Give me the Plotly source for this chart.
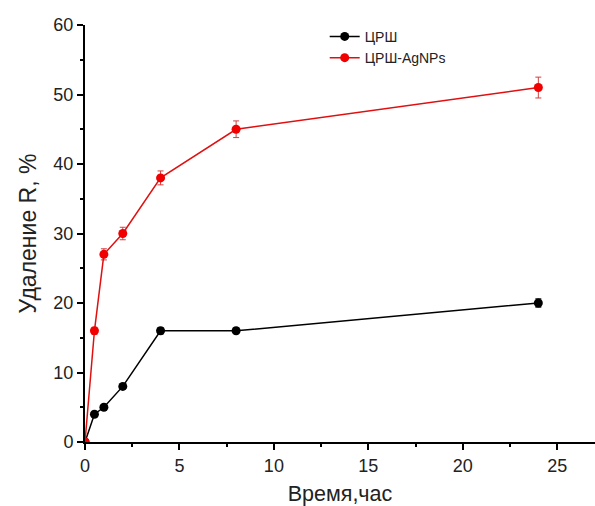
import plotly.graph_objects as go

time_h = [0, 0.5, 1, 2, 4, 8, 24]
crsh = [0, 4, 5, 8, 16, 16, 20]
crsh_err = [0, 0.2, 0.2, 0.3, 0.45, 0.4, 0.6]
crsh_ag = [0, 16, 27, 30, 38, 45, 51]
crsh_ag_err = [0, 0.5, 0.8, 0.9, 1.0, 1.2, 1.5]

fig = go.Figure()
fig.add_trace(go.Scatter(
    x=time_h, y=crsh, name="ЦРШ", mode="lines+markers",
    line=dict(color="black", width=1.5),
    marker=dict(color="black", size=9, symbol="circle"),
    error_y=dict(type="data", array=crsh_err, color="black", thickness=1, width=3),
))
fig.add_trace(go.Scatter(
    x=time_h, y=crsh_ag, name="ЦРШ-AgNPs", mode="lines+markers",
    line=dict(color="#e01010", width=1.5),
    marker=dict(color="#f00000", size=9, symbol="circle"),
    error_y=dict(type="data", array=crsh_ag_err, color="#d04040", thickness=1, width=3),
))

fig.update_layout(
    width=595, height=506,
    margin=dict(l=85, r=0, t=25, b=64),
    plot_bgcolor="white", paper_bgcolor="white",
    font=dict(family="Liberation Sans, Arial, sans-serif", color="#222", size=18),
    showlegend=True,
    legend=dict(x=0.47, y=1.01, xanchor="left", yanchor="top",
                font=dict(size=14, color="#222"), bgcolor="rgba(0,0,0,0)",
                tracegroupgap=0, itemwidth=30),
    xaxis=dict(
        range=[0, 27.0], tickvals=[0, 5, 10, 15, 20, 25],
        showline=True, linecolor="black", linewidth=2,
        ticks="outside", ticklen=6, tickwidth=1.5, tickcolor="black",
        minor=dict(tickvals=[2.5, 7.5, 12.5, 17.5, 22.5], ticks="outside",
                   ticklen=3, tickwidth=1.5, tickcolor="black"),
        showgrid=False, zeroline=False, automargin=False,
        title=dict(text="Время,час", font=dict(size=21.5), standoff=20),
    ),
    yaxis=dict(
        range=[0, 60], tickvals=[0, 10, 20, 30, 40, 50, 60],
        showline=True, linecolor="black", linewidth=2,
        ticks="outside", ticklen=6, tickwidth=1.5, tickcolor="black",
        minor=dict(tickvals=[5, 15, 25, 35, 45, 55], ticks="outside",
                   ticklen=3, tickwidth=1.5, tickcolor="black"),
        showgrid=False, zeroline=False,
        title=dict(text="Удаление R, %", font=dict(size=23), standoff=10),
    ),
)
fig.write_html("out.html")
